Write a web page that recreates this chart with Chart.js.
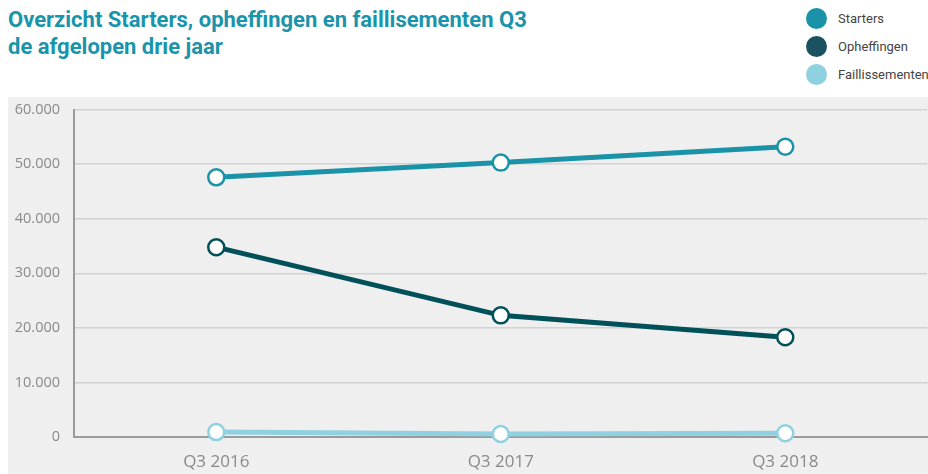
<!DOCTYPE html>
<html>
<head>
<meta charset="utf-8">
<script src="https://cdn.jsdelivr.net/npm/chart.js@4.4.1/dist/chart.umd.min.js"></script>
<style>
  body { margin: 0; width: 928px; height: 474px; background: #fff; position: relative; overflow: hidden; font-family: Roboto, sans-serif; }
  #title { position: absolute; left: 8px; top: 6px; margin: 0; font-size: 22px; line-height: 27px; font-weight: 700; color: #1a94ab; }
  #legend { position: absolute; left: 806px; top: 4px; }
  .item { display: flex; align-items: center; height: 28px; font-size: 13px; color: #444; }
  .dot { width: 21px; height: 21px; border-radius: 50%; margin-right: 11px; }
  #panel { position: absolute; left: 8px; top: 97px; width: 930px; height: 377px; background: #efefef; }
  #chart { position: absolute; left: 8px; top: 87px; }
</style>
</head>
<body>
<h1 id="title">Overzicht Starters, opheffingen en faillisementen Q3<br>de afgelopen drie jaar</h1>
<div id="legend"></div>
<div id="panel"></div>
<canvas id="chart" width="930" height="387"></canvas>
<script>
// --- Data ---
const categories = ['Q3 2016', 'Q3 2017', 'Q3 2018'];
const seriesNames = ['Starters', 'Opheffingen', 'Faillissementen'];
const starters = [47600, 50300, 53200];
const opheffingen = [34800, 22300, 18300];
const faillissementen = [900, 550, 700];
const yTicks = [0, 10000, 20000, 30000, 40000, 50000, 60000];

const lineColors = ['#1a93a8', '#00505a', '#8fd1e0'];
const legendColors = ['#1a93a8', '#1c5260', '#8fd1e0'];

// thousands separator with a dot, e.g. 60.000
function formatNumber(v) {
    return String(v).replace(/\B(?=(\d{3})+(?!\d))/g, '.');
}

// --- Legend (HTML) ---
const legendElem = document.getElementById('legend');
seriesNames.forEach((name, i) => {
    const item = document.createElement('div');
    item.className = 'item';
    item.innerHTML = `<span class="dot" style="background:${legendColors[i]}"></span>${name}`;
    legendElem.appendChild(item);
});

function makeDataset(label, data, color) {
    return {
        label: label,
        data: data,
        borderColor: color,
        borderWidth: 5,
        pointRadius: 8,
        pointHoverRadius: 8,
        pointBackgroundColor: '#ffffff',
        pointBorderColor: color,
        pointBorderWidth: 2.5,
        tension: 0,
        clip: false
    };
}

new Chart(document.getElementById('chart'), {
    type: 'line',
    data: {
        labels: categories,
        datasets: [
            makeDataset(seriesNames[0], starters, lineColors[0]),
            makeDataset(seriesNames[1], opheffingen, lineColors[1]),
            makeDataset(seriesNames[2], faillissementen, lineColors[2])
        ]
    },
    options: {
        responsive: false,
        animation: false,
        layout: { padding: { top: 2, right: 8, left: 0, bottom: 0 } },
        plugins: {
            legend: { display: false },
            tooltip: { enabled: false }
        },
        scales: {
            x: {
                offset: true,
                grid: { display: false, drawTicks: false },
                border: { color: '#9a9a9a', width: 2 },
                ticks: { color: '#8a8a8a', font: { family: 'Open Sans', size: 17 }, padding: 15 },
                afterFit: s => { s.height = 37; }
            },
            y: {
                min: 0,
                max: 60000,
                afterBuildTicks: s => { s.ticks = yTicks.map(v => ({ value: v })); },
                grid: { color: '#d2d2d2', lineWidth: 1.5, drawTicks: false },
                border: { color: '#9a9a9a', width: 2 },
                ticks: {
                    color: '#8a8a8a',
                    font: { family: 'Open Sans', size: 14.5 },
                    padding: 14,
                    callback: v => formatNumber(v)
                },
                afterFit: s => { s.width = 66; }
            }
        }
    }
});
</script>
</body>
</html>
